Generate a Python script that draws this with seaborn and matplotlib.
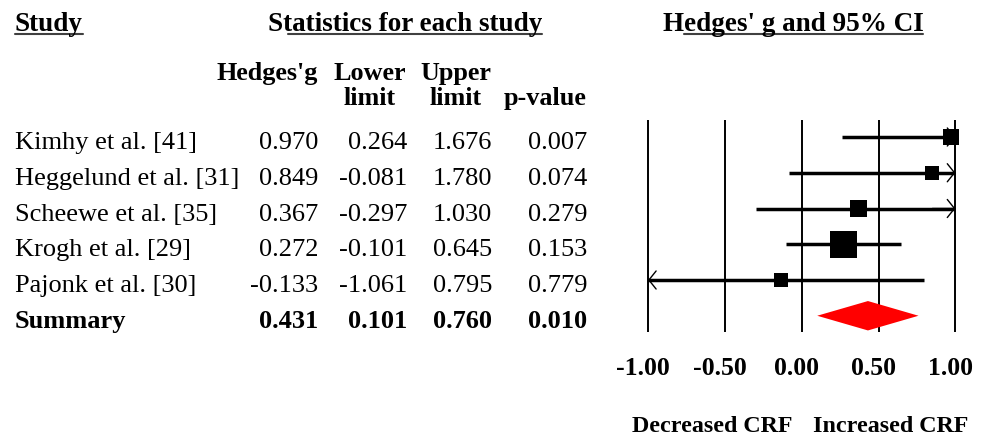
import matplotlib
matplotlib.use("Agg")
import matplotlib.pyplot as plt
import matplotlib.transforms as mtransforms
from matplotlib.lines import Line2D
import pandas as pd
import seaborn as sns

# ---- data -------------------------------------------------------------
studies = ["Kimhy et al. [41]", "Heggelund et al. [31]", "Scheewe et al. [35]",
           "Krogh et al. [29]", "Pajonk et al. [30]"]
hedges_g = [0.970, 0.849, 0.367, 0.272, -0.133]
lower_limit = [0.264, -0.081, -0.297, -0.101, -1.061]
upper_limit = [1.676, 1.780, 1.030, 0.645, 0.795]
p_values = [0.007, 0.074, 0.279, 0.153, 0.779]
rel_weight = [14.5, 8.4, 16.5, 52.2, 8.4]   # relative study weight (%)

summary_label = "Summary"
summary_g = 0.431
summary_lower = 0.101
summary_upper = 0.760
summary_p = 0.010

x_ticks = [-1.00, -0.50, 0.00, 0.50, 1.00]
effect_labels = ["Decreased CRF", "Increased CRF"]
head_line1 = ["Hedges'g", "Lower", "Upper", ""]
head_line2 = ["", "limit", "limit", "p-value"]

# ---- figure setup -----------------------------------------------------
W, H = 988, 437
sns.set_theme(style="white")
plt.rcParams["font.family"] = ["Liberation Serif", "DejaVu Serif"]
plt.rcParams["text.color"] = "black"

fig = plt.figure(figsize=(W / 100, H / 100), dpi=100)
fig.patch.set_facecolor("white")


def fx(px):
    return px / W


def fy(py):
    return 1 - py / H


# forest panel, laid out in pixel units
PX_PER_UNIT = 153.7
X_MINUS1 = 648
ROW0, ROW_STEP = 137, 35.75
ax_l, ax_r, ax_t, ax_b = 600, 988, 110, 340
ax = fig.add_axes([fx(ax_l), fy(ax_b), (ax_r - ax_l) / W, (ax_b - ax_t) / H])
ax.set_xlim(-1 - (X_MINUS1 - ax_l) / PX_PER_UNIT,
            -1 + (ax_r - X_MINUS1) / PX_PER_UNIT)
ax.set_ylim((ax_b - ROW0) / ROW_STEP, (ax_t - ROW0) / ROW_STEP)
ax.axis("off")

n = len(studies)
rows = list(range(n))
sum_row = n

# reference lines
ax.vlines(x_ticks, (120 - ROW0) / ROW_STEP, (332 - ROW0) / ROW_STEP,
          color="black", lw=1.4, zorder=1)

# confidence intervals, clipped to the axis range with arrow heads
xmin, xmax = x_ticks[0], x_ticks[-1]
for r, lo, hi in zip(rows, lower_limit, upper_limit):
    lo_c, hi_c = max(lo, xmin), min(hi, xmax)
    ax.hlines(r, lo_c, hi_c, color="black", lw=2.5, zorder=2)
    arrow = dict(arrowstyle="->,head_length=0.4,head_width=0.5",
                 mutation_scale=13, lw=1.0, color="black",
                 shrinkA=0, shrinkB=0)
    if hi > xmax:
        ax.annotate("", xy=(xmax, r), xytext=(xmax - 0.15, r),
                    arrowprops=arrow, zorder=2)
    if lo < xmin:
        ax.annotate("", xy=(xmin, r), xytext=(xmin + 0.15, r),
                    arrowprops=arrow, zorder=2)

# study point estimates, square area by weight
df = pd.DataFrame({"g": hedges_g, "row": rows, "weight": rel_weight})
sns.scatterplot(data=df, x="g", y="row", size="weight", sizes=(101, 378),
                marker="s", color="black", linewidth=0, legend=False,
                ax=ax, zorder=3)

# pooled estimate diamond
half_h = 14.7 / ROW_STEP
ax.fill([summary_lower, summary_g, summary_upper, summary_g],
        [sum_row, sum_row - half_h, sum_row, sum_row + half_h],
        color="#ff0000", lw=0, zorder=3)

# ---- table ------------------------------------------------------------
BODY = 19.0
HEAD = 19.5
COLHEAD = 18.8
TICK = 18.5
SMALL = 17.3
row_tf = mtransforms.blended_transform_factory(fig.transFigure, ax.transData)
row_tf = mtransforms.offset_copy(row_tf, fig=fig, x=0, y=-12, units="dots")

col_right = [318, 407, 492, 587]
for r, name, g, lo, hi, p in zip(rows, studies, hedges_g, lower_limit,
                                 upper_limit, p_values):
    fig.text(fx(15), r, name, transform=row_tf, fontsize=BODY,
             ha="left", va="baseline")
    for xr, v in zip(col_right, [g, lo, hi, p]):
        fig.text(fx(xr), r, f"{v:.3f}", transform=row_tf, fontsize=BODY,
                 ha="right", va="baseline")

fig.text(fx(15), sum_row, summary_label, transform=row_tf, fontsize=BODY,
         ha="left", va="baseline", fontweight="bold")
for xr, v in zip(col_right, [summary_g, summary_lower, summary_upper, summary_p]):
    fig.text(fx(xr), sum_row, f"{v:.3f}", transform=row_tf, fontsize=BODY,
             ha="right", va="baseline", fontweight="bold")

# column headings on two lines, centred over each column
head_center = [267, 370, 456, 545]
for xc, l1, l2 in zip(head_center, head_line1, head_line2):
    if l1:
        fig.text(fx(xc), fy(80), l1, fontsize=COLHEAD, fontweight="bold",
                 ha="center", va="baseline")
    if l2:
        fig.text(fx(xc), fy(105), l2, fontsize=COLHEAD, fontweight="bold",
                 ha="center", va="baseline")

# section titles
titles = [
    (15, "left", "Study", 0),
    (405, "center", "Statistics for each study", 1),
    (793, "center", "Hedges' g and 95% CI", 1),
]
title_objs = []
for xp, ha, txt, skip in titles:
    t = fig.text(fx(xp), fy(31), txt, fontsize=HEAD, fontweight="bold",
                 ha=ha, va="baseline")
    title_objs.append((t, txt, skip))

# tick labels and direction labels under the forest panel
tick_tf = mtransforms.offset_copy(
    mtransforms.blended_transform_factory(ax.transData, fig.transFigure),
    fig=fig, x=-5, y=0, units="dots")
for xt in x_ticks:
    fig.text(xt, fy(375), f"{xt:.2f}", transform=tick_tf, fontsize=TICK,
             fontweight="bold", ha="center", va="baseline")
fig.text(fx(712), fy(432), effect_labels[0], fontsize=SMALL,
         fontweight="bold", ha="center", va="baseline")
fig.text(fx(891), fy(432), effect_labels[1], fontsize=SMALL,
         fontweight="bold", ha="center", va="baseline")

# underline the section titles (leading letters left open)
fig.canvas.draw()
renderer = fig.canvas.get_renderer()
for t, txt, skip in title_objs:
    bb = t.get_window_extent(renderer)
    x_start = bb.x0
    if skip:
        probe = fig.text(0, 0, txt[:skip], fontsize=HEAD, fontweight="bold")
        x_start += probe.get_window_extent(renderer).width
        probe.remove()
        if txt.startswith("Stat"):
            x_start += 5
    y_line = H - 34
    fig.add_artist(Line2D([x_start / W, bb.x1 / W], [y_line / H, y_line / H],
                          transform=fig.transFigure, color="#404040", lw=1.5))

fig.savefig("out.png", dpi=100, facecolor="white")
